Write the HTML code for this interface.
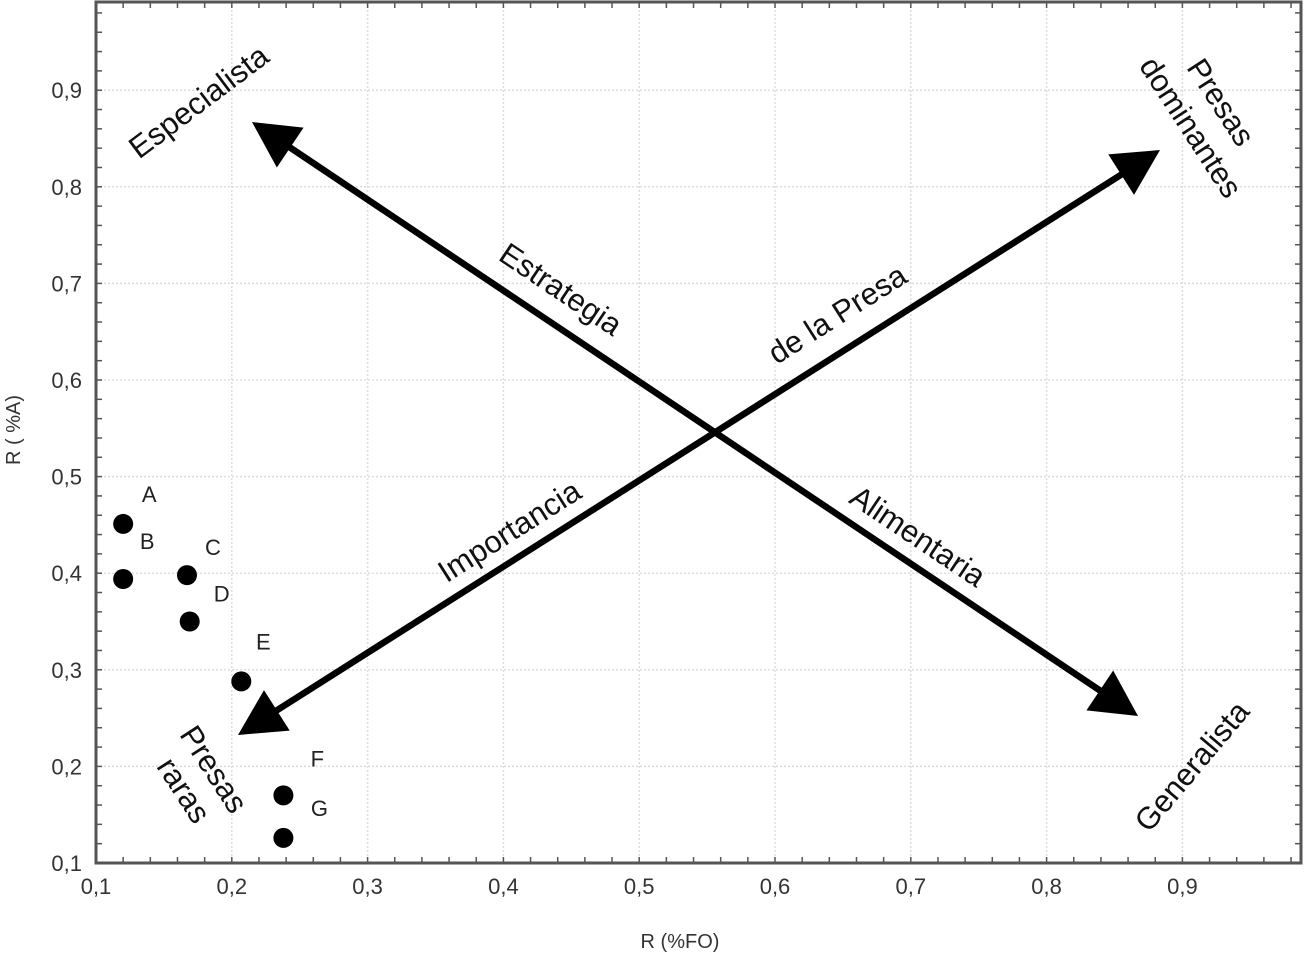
<!DOCTYPE html>
<html><head><meta charset="utf-8"><style>
html,body{margin:0;padding:0;background:#fff;}
svg{display:block;font-family:"Liberation Sans",Arial,sans-serif;}
</style></head><body>
<svg id="chart" width="1306" height="957" viewBox="0 0 1306 957">
<g id="grid"></g>
<g id="ticks"></g>
<g id="arrows"></g>
<g id="points"></g>
<rect x="96" y="2" width="1205" height="861" fill="none" stroke="#555" stroke-width="3"/>
<text x="680" y="948" text-anchor="middle" font-size="20" fill="#333">R (%FO)</text>
<text transform="translate(20,430) rotate(-90)" text-anchor="middle" font-size="20" fill="#333">R ( %A)</text>
<g font-size="31" fill="#111" text-anchor="middle">
<text transform="translate(205,110) rotate(-37)">Especialista</text>
<text transform="translate(555,298) rotate(33.8)">Estrategia</text>
<text transform="translate(912,545) rotate(33.8)">Alimentaria</text>
<text transform="translate(843,323) rotate(-32.4)">de la Presa</text>
<text transform="translate(515,540) rotate(-32.4)">Importancia</text>
<text transform="translate(1212,108) rotate(57)">Presas</text>
<text transform="translate(1182,133) rotate(57)">dominantes</text>
<text transform="translate(1200,773) rotate(-50)">Generalista</text>
<text transform="translate(205,775) rotate(57)">Presas</text>
<text transform="translate(175,796) rotate(57)">raras</text>
</g>
</svg>
<script>
const xTicks=[0.1,0.2,0.3,0.4,0.5,0.6,0.7,0.8,0.9];
const yTicks=[0.1,0.2,0.3,0.4,0.5,0.6,0.7,0.8,0.9];
const tickLabels=["0,1","0,2","0,3","0,4","0,5","0,6","0,7","0,8","0,9"];
const categories=["A","B","C","D","E","F","G"];
const xValues=[0.12,0.12,0.167,0.169,0.207,0.238,0.238];
const yValues=[0.451,0.394,0.398,0.35,0.288,0.170,0.126];
const ns="http://www.w3.org/2000/svg";
const X=v=>96+(v-0.1)*1358;
const Y=v=>863-(v-0.1)*966;
function mk(tag,attrs,parent){const e=document.createElementNS(ns,tag);for(const k in attrs)e.setAttribute(k,attrs[k]);parent.appendChild(e);return e;}
const grid=document.getElementById('grid'),ticks=document.getElementById('ticks');
xTicks.forEach((t,i)=>{
 if(i>0){const g=mk('line',{x1:X(t),x2:X(t),y1:2,y2:863,stroke:'#ddd','stroke-width':1.5,'stroke-dasharray':'2,2'},grid);
 
 }
 const l=mk('text',{x:X(t),y:894,'text-anchor':'middle','font-size':22,fill:'#333'},ticks);l.textContent=tickLabels[i];
 
 
});
yTicks.forEach((t,i)=>{
 if(i>0){const g=mk('line',{x1:96,x2:1301,y1:Y(t),y2:Y(t),stroke:'#ddd','stroke-width':1.5,'stroke-dasharray':'2,2'},grid);
 
 }
 const l=mk('text',{x:82,y:Y(t)+8,'text-anchor':'end','font-size':22,fill:'#333'},ticks);l.textContent=tickLabels[i];
 
 
});
for(let v=0.1;v<0.99;v+=0.02){
 const a=mk('line',{x1:X(v),x2:X(v),y1:863,y2:857,stroke:'#555','stroke-width':1.5},ticks);
 
 
 const b=mk('line',{x1:X(v),x2:X(v),y1:2,y2:8,stroke:'#555','stroke-width':1.5},ticks);
 
 
 const c=mk('line',{x1:96,x2:102,y1:Y(v),y2:Y(v),stroke:'#555','stroke-width':1.5},ticks);
 
 
 const d=mk('line',{x1:1295,x2:1301,y1:Y(v),y2:Y(v),stroke:'#555','stroke-width':1.5},ticks);
 
 
}
const pts=document.getElementById('points');
const labelOff=[[26,-30],[24,-38],[26,-28],[32,-28],[22,-40],[34,-37],[36,-30]];
categories.forEach((c,i)=>{
 const p=mk('circle',{cx:X(xValues[i]),cy:Y(yValues[i]),r:10,fill:'#000'},pts);
 
 
 const t=mk('text',{x:X(xValues[i])+labelOff[i][0],y:Y(yValues[i])+labelOff[i][1]+8,'text-anchor':'middle','font-size':22,fill:'#222'},pts);
 t.textContent=c;
 
 
});
const arrows=document.getElementById('arrows');
function arrow(x1,y1,x2,y2,name){
 const dx=x2-x1,dy=y2-y1,L=Math.hypot(dx,dy),ux=dx/L,uy=dy/L,h=46,w=24;
 const g=mk('g',{},arrows);
 
 
 mk('line',{x1:x1+ux*h*0.8,y1:y1+uy*h*0.8,x2:x2-ux*h*0.8,y2:y2-uy*h*0.8,stroke:'#000','stroke-width':6.5},g);
 [[x1,y1,-1],[x2,y2,1]].forEach(([px,py,s])=>{
  const bx=px-s*ux*h,by=py-s*uy*h;
  mk('polygon',{points:`${px},${py} ${bx-uy*w},${by+ux*w} ${bx+uy*w},${by-ux*w}`,fill:'#000'},g);
 });
}
arrow(252,122,1138,716,'arrow-especialista-generalista');
arrow(238,735,1160,150,'arrow-raras-dominantes');
</script>
</body></html>
